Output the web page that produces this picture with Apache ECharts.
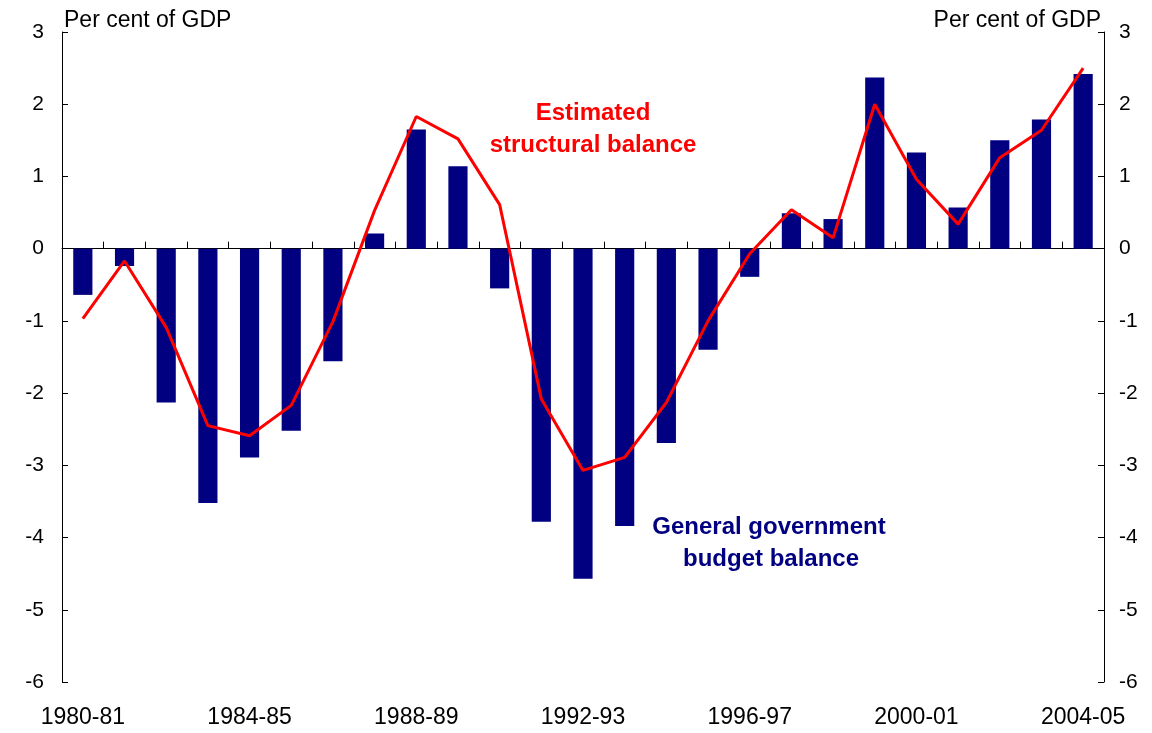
<!DOCTYPE html>
<html>
<head>
<meta charset="utf-8">
<script src="https://cdn.jsdelivr.net/npm/echarts@6/dist/echarts.min.js"></script>
<style>
  html, body { margin: 0; padding: 0; background: #fff; }
  #chart { width: 1152px; height: 733px; }
</style>
</head>
<body>
<div id="chart"></div>
<script>
var years = ['1980-81', '1981-82', '1982-83', '1983-84', '1984-85', '1985-86', '1986-87', '1987-88',
  '1988-89', '1989-90', '1990-91', '1991-92', '1992-93', '1993-94', '1994-95', '1995-96', '1996-97',
  '1997-98', '1998-99', '1999-00', '2000-01', '2001-02', '2002-03', '2003-04', '2004-05']

// general government budget balance (bars)
var budgetBalance = [-0.64, -0.24, -2.13, -3.52, -2.89, -2.52, -1.56, 0.21,
  1.65, 1.14, -0.55, -3.78, -4.57, -3.84, -2.69, -1.40, -0.39,
  0.49, 0.41, 2.37, 1.33, 0.57, 1.50, 1.79, 2.42]

// estimated structural balance (line)
var structBalance = [-0.97, -0.17, -1.09, -2.45, -2.59, -2.17, -1.01, 0.53,
  1.83, 1.52, 0.61, -2.08, -3.07, -2.89, -2.13, -1.00, -0.07,
  0.54, 0.15, 2.00, 0.96, 0.34, 1.26, 1.64, 2.50]

var yMin = -6
var yMax = 3
var yStep = 1

var chart = echarts.init(document.getElementById('chart'), null, { renderer: 'canvas' })

var font = 'Arial, "Liberation Sans", sans-serif'

function label(txt, x, y, size, color, bold) {
  return {
    type: 'text', x: x, y: y, silent: true,
    style: { text: txt, fontSize: size, fontWeight: bold ? 'bold' : 'normal', fontFamily: font,
      fill: color, align: 'center', verticalAlign: 'middle' }
  }
}

var option = {
  animation: false,
  backgroundColor: '#fff',
  textStyle: { fontFamily: font },
  grid: { left: 62, right: 48, top: 32, bottom: 51, containLabel: false },
  graphic: [
    { type: 'text', x: 64, y: 21, silent: true,
      style: { text: 'Per cent of GDP', fontSize: 23, fontFamily: font, fill: '#000', align: 'left', verticalAlign: 'middle' } },
    { type: 'text', x: 1101, y: 21, silent: true,
      style: { text: 'Per cent of GDP', fontSize: 23, fontFamily: font, fill: '#000', align: 'right', verticalAlign: 'middle' } },
    label('Estimated', 593, 113, 24, '#ff0000', true),
    label('structural balance', 593, 145, 24, '#ff0000', true),
    label('General government', 769, 527, 24, '#000080', true),
    label('budget balance', 771, 559, 24, '#000080', true)
  ],
  xAxis: [{
    // axis at zero, ticks above
    type: 'category',
    data: years,
    boundaryGap: true,
    axisLine: { onZero: true, lineStyle: { color: '#000', width: 1 } },
    axisTick: { show: true, inside: true, length: 6, interval: 0, lineStyle: { color: '#000' } },
    axisLabel: { show: false }
  }, {
    // ticks below zero line
    type: 'category',
    data: years,
    boundaryGap: true,
    axisLine: { show: false, onZero: true },
    axisTick: { show: true, inside: false, length: 7, interval: 0, lineStyle: { color: '#000' } },
    axisLabel: { show: false }
  }, {
    // labels at bottom
    type: 'category',
    data: years,
    position: 'bottom',
    boundaryGap: true,
    axisLine: { show: false, onZero: false },
    axisTick: { show: false },
    axisLabel: { show: true, interval: 3, fontSize: 23, color: '#000', margin: 24, fontFamily: font }
  }],
  yAxis: [{
    type: 'value',
    min: yMin,
    max: yMax,
    interval: yStep,
    position: 'left',
    axisLine: { show: true, lineStyle: { color: '#000' } },
    axisTick: { show: true, inside: true, length: 6, lineStyle: { color: '#000' } },
    axisLabel: { fontSize: 21, color: '#000', margin: 18, fontFamily: font },
    splitLine: { show: false }
  }, {
    type: 'value',
    min: yMin,
    max: yMax,
    interval: yStep,
    position: 'right',
    axisLine: { show: true, lineStyle: { color: '#000' } },
    axisTick: { show: true, inside: true, length: 6, lineStyle: { color: '#000' } },
    axisLabel: { fontSize: 21, color: '#000', margin: 15, fontFamily: font },
    splitLine: { show: false }
  }],
  series: [{
    type: 'bar',
    name: 'General government budget balance',
    xAxisIndex: 0,
    yAxisIndex: 0,
    data: budgetBalance,
    barWidth: '46%',
    itemStyle: { color: '#000080' }
  }, {
    type: 'line',
    name: 'Estimated structural balance',
    xAxisIndex: 0,
    yAxisIndex: 0,
    data: structBalance,
    showSymbol: false,
    symbol: 'none',
    lineStyle: { color: '#ff0000', width: 3 },
    z: 3
  }]
}

chart.setOption(option)
</script>
</body>
</html>
